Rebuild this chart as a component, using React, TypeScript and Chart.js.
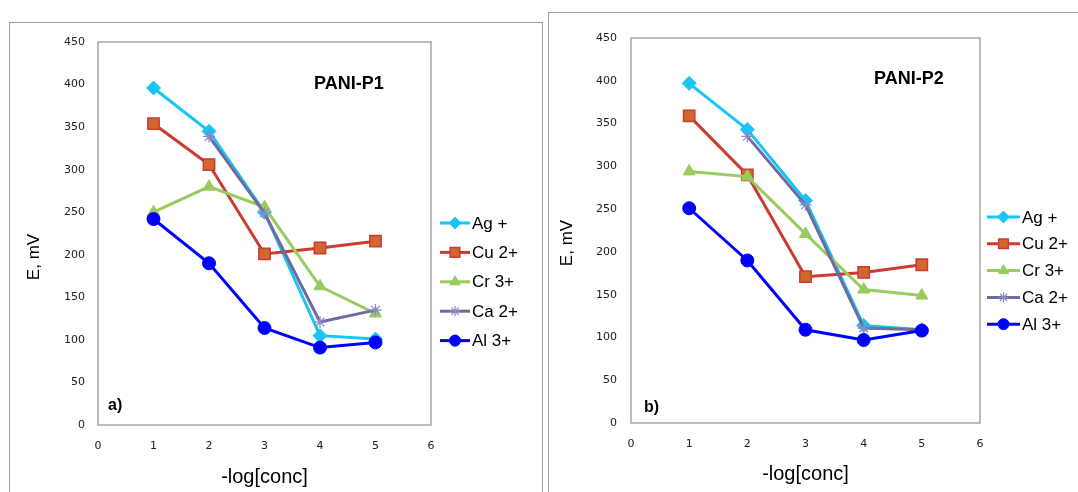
import React, { useEffect, useRef } from "react";
import { Chart, registerables } from "chart.js";
import { drawPoint } from "chart.js/helpers";

Chart.register(...registerables);

// ---- data ----
const xValues = [1, 2, 3, 4, 5];
const seriesNames = ["Ag +", "Cu 2+", "Cr 3+", "Ca 2+", "Al 3+"];

const p1Ag = [396, 345, 250, 105, 101];
const p1Cu = [354, 306, 201, 208, 216];
const p1Cr = [250, 280, 256, 163, 131];
const p1Ca = [null, 339, 249, 121, 135];
const p1Al = [242, 190, 114, 91, 97];

const p2Ag = [397, 343, 260, 114, 109];
const p2Cu = [359, 290, 171, 176, 185];
const p2Cr = [294, 288, 221, 156, 149];
const p2Ca = [null, 335, 255, 111, 109];
const p2Al = [251, 190, 109, 97, 108];

const xMin = 0, xMax = 6, xStep = 1;
const yMin = 0, yMax = 450, yStep = 50;

const xTitle = "-log[conc]";
const yTitle = "E, mV";

// ---- styles ----
const seriesStyles = [
  { line: "#19c5f5", fill: "#19c5f5", border: "#19c5f5", point: "rectRot", radius: 7, bw: 1 },
  { line: "#cc3a30", fill: "#d2662f", border: "#cc3a30", point: "rect", radius: 8, bw: 1.5 },
  { line: "#9acb5f", fill: "#9acb5f", border: "#9acb5f", point: "triangle", radius: 7, bw: 1 },
  { line: "#6e6b9f", fill: "#6e6b9f", border: "#8c88c6", point: "star", radius: 6, bw: 1.2 },
  { line: "#0000ff", fill: "#0000ff", border: "#0000ff", point: "circle", radius: 6.5, bw: 1 },
];

const SANS = "'Liberation Sans', Arial, sans-serif";
const TICKFONT = "'DejaVu Sans', Verdana, sans-serif";

const decorPlugin = {
  id: "panelDecor",
  afterDatasetsDraw(chart: any, _args: any, opts: any) {
    const { ctx, chartArea } = chart;
    ctx.save();
    // plot area box
    ctx.strokeStyle = "#a6a6a6";
    ctx.lineWidth = 1.5;
    ctx.strokeRect(chartArea.left, chartArea.top, chartArea.right - chartArea.left, chartArea.bottom - chartArea.top);
    // annotation title
    ctx.fillStyle = "#000";
    ctx.textBaseline = "middle";
    ctx.textAlign = "left";
    ctx.font = `bold 18px ${SANS}`;
    ctx.fillText(opts.title, opts.titleX, opts.titleY);
    ctx.font = `bold 16px ${SANS}`;
    ctx.fillText(opts.tag, opts.tagX, opts.tagY);
    // y title
    ctx.save();
    ctx.translate(opts.yTitleX, opts.yTitleY);
    ctx.rotate(-Math.PI / 2);
    ctx.textAlign = "center";
    ctx.font = `17px ${SANS}`;
    ctx.fillText(yTitle, 0, 0);
    ctx.restore();
    // legend
    chart.data.datasets.forEach((ds: any, i: number) => {
      const st = seriesStyles[i];
      const y = opts.legendY0 + i * opts.legendStep;
      ctx.strokeStyle = st.line;
      ctx.lineWidth = 3;
      ctx.beginPath();
      ctx.moveTo(opts.legendX0, y);
      ctx.lineTo(opts.legendX1, y);
      ctx.stroke();
      ctx.fillStyle = st.fill;
      ctx.strokeStyle = st.border;
      ctx.lineWidth = st.bw;
      drawPoint(ctx, { pointStyle: st.point, radius: st.radius * 0.85, borderWidth: st.bw, rotation: 0 } as any, (opts.legendX0 + opts.legendX1) / 2, y);
      ctx.fillStyle = "#000";
      ctx.font = `17px ${SANS}`;
      ctx.textAlign = "left";
      ctx.textBaseline = "middle";
      ctx.fillText(ds.label, opts.legendX1 + 2, y + 1);
    });
    ctx.restore();
  },
};

function makeConfig(series: (number | null)[][], p: any) {
  return {
    type: "line",
    data: {
      datasets: series.map((vals, i) => {
        const st = seriesStyles[i];
        return {
          label: seriesNames[i],
          data: xValues.map((x, j) => ({ x, y: vals[j] })),
          borderColor: st.line,
          backgroundColor: st.fill,
          pointBackgroundColor: st.fill,
          pointBorderColor: st.border,
          pointStyle: st.point,
          pointRadius: st.radius,
          pointBorderWidth: st.bw,
          borderWidth: 3,
          tension: 0,
          order: series.length - 1 - i,
        };
      }),
    },
    options: {
      responsive: false,
      animation: false,
      events: [],
      layout: { padding: { left: 0, right: p.padRight, top: p.padTop, bottom: 0 } },
      plugins: {
        legend: { display: false },
        tooltip: { enabled: false },
        panelDecor: p.decor,
      },
      scales: {
        x: {
          type: "linear",
          min: xMin,
          max: xMax,
          ticks: { stepSize: xStep, padding: 15, color: "#222", font: { family: TICKFONT, size: 11 } },
          grid: { display: false, drawTicks: false },
          border: { display: false },
          title: {
            display: true,
            text: xTitle,
            color: "#000",
            font: { family: SANS, size: 20 },
            padding: { top: 0, bottom: p.xTitlePad },
          },
          afterFit: (s: any) => { s.height = p.xHeight; },
        },
        y: {
          type: "linear",
          min: yMin,
          max: yMax,
          ticks: { stepSize: yStep, padding: p.yTickPad, color: "#222", font: { family: TICKFONT, size: 11 } },
          grid: { display: false, drawTicks: false },
          border: { display: false },
          afterFit: (s: any) => { s.width = p.yWidth; },
        },
      },
    },
    plugins: [decorPlugin],
  };
}

function Panel({ series, params, w, h }: any) {
  const ref = useRef<HTMLCanvasElement>(null);
  useEffect(() => {
    const chart = new Chart(ref.current as HTMLCanvasElement, makeConfig(series, params) as any);
    return () => chart.destroy();
  }, []);
  return <canvas ref={ref} width={w} height={h} style={{ width: w, height: h, display: "block" }} />;
}

const p1Params = {
  padRight: 112, padTop: 20, xHeight: 67, yWidth: 89, yTickPad: 13, xTitlePad: 3,
  decor: {
    title: "PANI-P1", titleX: 305, titleY: 62,
    tag: "a)", tagX: 99, tagY: 384,
    yTitleX: 25, yTitleY: 235,
    legendX0: 431, legendX1: 461, legendY0: 201, legendStep: 29.4,
  },
};

const p2Params = {
  padRight: 98, padTop: 26, xHeight: 69, yWidth: 83, yTickPad: 14, xTitlePad: 6,
  decor: {
    title: "PANI-P2", titleX: 326, titleY: 67,
    tag: "b)", tagX: 96, tagY: 396,
    yTitleX: 19.5, yTitleY: 231,
    legendX0: 439, legendX1: 472, legendY0: 205, legendStep: 26.8,
  },
};

export default function App() {
  return (
    <div style={{ position: "absolute", left: 0, top: 0, width: 1078, height: 492, overflow: "hidden", background: "#fff" }}>
      <div style={{ position: "absolute", left: 9, top: 22, width: 534, height: 480, border: "1px solid #a0a0a0", boxSizing: "border-box" }} />
      <div style={{ position: "absolute", left: 9, top: 22 }}>
        <Panel series={[p1Ag, p1Cu, p1Cr, p1Ca, p1Al]} params={p1Params} w={534} h={470} />
      </div>
      <div style={{ position: "absolute", left: 548, top: 12, width: 545, height: 490, border: "1px solid #a0a0a0", boxSizing: "border-box" }} />
      <div style={{ position: "absolute", left: 548, top: 12 }}>
        <Panel series={[p2Ag, p2Cu, p2Cr, p2Ca, p2Al]} params={p2Params} w={530} h={480} />
      </div>
    </div>
  );
}
